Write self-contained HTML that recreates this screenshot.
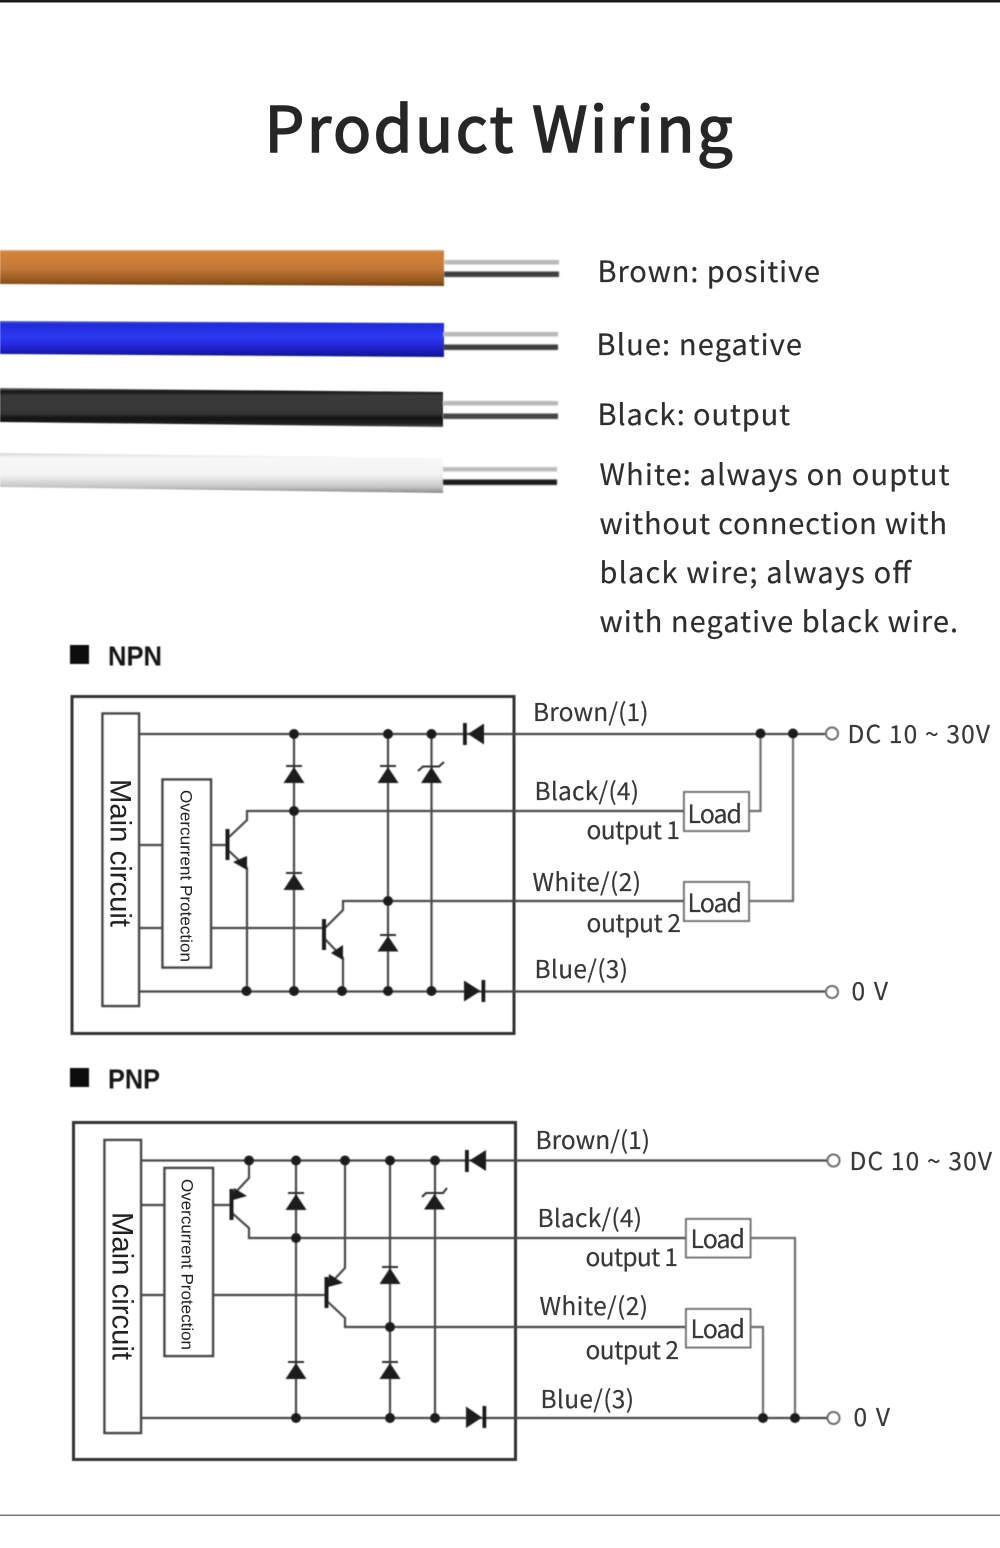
<!DOCTYPE html>
<html lang="en">
<head>
<meta charset="utf-8">
<title>Product Wiring</title>
<style>
html,body{margin:0;padding:0;background:#fff}
svg{display:block}
text{font-family:"Noto Sans CJK JP","Liberation Sans",sans-serif;fill:#2e2e2e}
.t{font-size:29px;stroke:#2e2e2e;stroke-width:.2px}
.l{font-size:24.5px;fill:#383838;stroke:#383838;stroke-width:.2px}
.ld{font-size:25px}
.h{font-family:"Liberation Sans",sans-serif;font-weight:700;font-size:28px;fill:#161616}
.r{font-family:"Liberation Sans",sans-serif;fill:#222}
.w{fill:none;stroke:#4a4a4a;stroke-width:2.2}
.b{fill:#fff;stroke:#444;stroke-width:2.5}
.o{fill:#fff;stroke:#666;stroke-width:2}
.g{fill:none;stroke:#6e6e6e;stroke-width:2.2}
.k{fill:#1c1c1c}
</style>
</head>
<body>
<svg xmlns="http://www.w3.org/2000/svg" width="1000" height="1548" viewBox="0 0 1000 1548">
<defs>
<filter id="s" x="-5%" y="-5%" width="110%" height="110%"><feGaussianBlur stdDeviation="0.45"/></filter>
<filter id="s2" x="-5%" y="-5%" width="110%" height="110%"><feGaussianBlur stdDeviation="0.7"/></filter>
<linearGradient id="br" x1="0" y1="0" x2="0" y2="1">
<stop offset="0" stop-color="#dcb08c"/><stop offset=".06" stop-color="#d58238"/><stop offset=".5" stop-color="#c4793a"/><stop offset=".85" stop-color="#96591e"/><stop offset="1" stop-color="#74431c"/>
</linearGradient>
<linearGradient id="bl" x1="0" y1="0" x2="0" y2="1">
<stop offset="0" stop-color="#5a66d8"/><stop offset=".08" stop-color="#1f2bd8"/><stop offset=".45" stop-color="#3038f4"/><stop offset=".75" stop-color="#1e22cc"/><stop offset="1" stop-color="#10148e"/>
</linearGradient>
<linearGradient id="bk" x1="0" y1="0" x2="0" y2="1">
<stop offset="0" stop-color="#777"/><stop offset=".08" stop-color="#161616"/><stop offset=".2" stop-color="#3a3a3a"/><stop offset=".65" stop-color="#363636"/><stop offset=".78" stop-color="#111"/><stop offset=".92" stop-color="#222"/><stop offset="1" stop-color="#555"/>
</linearGradient>
<linearGradient id="wh" x1="0" y1="0" x2="0" y2="1">
<stop offset="0" stop-color="#d4d4d4"/><stop offset=".12" stop-color="#f8f8f8"/><stop offset=".55" stop-color="#f2f2f2"/><stop offset=".85" stop-color="#c4c4c4"/><stop offset="1" stop-color="#8a8a8a"/>
</linearGradient>
</defs>

<rect x="0" y="0" width="1000" height="2.5" fill="#1a1a1a"/>
<rect x="0" y="1514.5" width="1000" height="1.5" fill="#777"/>

<text x="264.5" y="152" style="font-size:63px;stroke:#262626;stroke-width:1.6px;fill:#262626" textLength="468" lengthAdjust="spacing">Product Wiring</text>

<!-- cables -->
<g filter="url(#s)">
<polygon points="0,250 444,250 444,286 0,284" fill="url(#br)"/>
<polygon points="0,321 444,323 444,357 0,354" fill="url(#bl)"/>
<polygon points="0,388 443,392 443,427 0,422" fill="url(#bk)"/>
<polygon points="0,453 443,458 443,493 0,487" fill="url(#wh)"/>
</g>
<g filter="url(#s2)">
<rect x="444" y="260" width="115" height="4.5" fill="#b8b8b8"/><rect x="444" y="271.5" width="115" height="5.5" fill="#3c3c3c"/>
<rect x="443" y="332" width="115" height="4.5" fill="#b8b8b8"/><rect x="443" y="344.5" width="115" height="5.5" fill="#3c3c3c"/>
<rect x="443" y="401" width="115" height="4.5" fill="#b8b8b8"/><rect x="443" y="413.5" width="115" height="5.5" fill="#444"/>
<rect x="443" y="467" width="114" height="4.5" fill="#bcbcbc"/><rect x="443" y="479.5" width="114" height="5.5" fill="#1e1e1e"/>
</g>

<g>
<text class="t" x="597.5" y="282" textLength="222.5" lengthAdjust="spacing">Brown: positive</text>
<text class="t" x="596.5" y="355" textLength="205.5" lengthAdjust="spacing">Blue: negative</text>
<text class="t" x="597.5" y="425" textLength="192.5" lengthAdjust="spacing">Black: output</text>
<text class="t" x="599.5" y="485" textLength="350" lengthAdjust="spacing">White: always on ouptut</text>
<text class="t" x="599.5" y="534" textLength="347.5" lengthAdjust="spacing">without connection with</text>
<text class="t" x="599.5" y="583" textLength="311.5" lengthAdjust="spacing">black wire; always off</text>
<text class="t" x="599.5" y="632" textLength="358.5" lengthAdjust="spacing">with negative black wire.</text>
</g>

<!-- NPN -->
<g filter="url(#s)">
<rect x="70" y="645" width="19" height="19" fill="#111"/>
<text class="h" x="108" y="665.5" textLength="54" lengthAdjust="spacingAndGlyphs">NPN</text>
<rect x="72" y="696.5" width="442" height="337" fill="none" stroke="#333" stroke-width="3"/>
<rect class="b" x="102.5" y="713.5" width="36.5" height="292.5"/>
<rect class="b" x="162.5" y="779.5" width="48.5" height="188"/>
<path class="w" d="M139 734H825M139 991.5H825M139 845H162M211 845H227M139 928H162M211 928H324M294 734V991M388 734V991M431.5 734V991"/>
<path class="w" d="M684 811H247V820L228 838M228 850L247 868V991M684 901H343V910L325 928M325 939L343 958V991"/>
<rect class="k" x="225.5" y="829" width="4" height="31"/>
<rect class="k" x="322" y="919" width="4" height="31"/>
<polygon class="k" points="233,862 247,856 247,870"/>
<polygon class="k" points="331,953 343,945 343,960"/>
<path class="g" d="M749 811H760.5V734M749 901H793V734"/>
<g class="k">
<circle cx="294" cy="734" r="5"/><circle cx="388" cy="734" r="5"/><circle cx="431.5" cy="734" r="5"/>
<circle cx="294" cy="811" r="5"/><circle cx="388" cy="901" r="5"/>
<circle cx="246.5" cy="991" r="5"/><circle cx="294" cy="991" r="5"/><circle cx="342" cy="991" r="5"/><circle cx="388" cy="991" r="5"/><circle cx="431.5" cy="991" r="5"/>
<circle cx="760.5" cy="733.5" r="5"/><circle cx="793" cy="733.5" r="5"/>
<rect x="463" y="723" width="3.8" height="22"/><polygon points="468,734 484,723.5 484,744.5"/>
<rect x="481.5" y="980" width="3.8" height="22"/><polygon points="464,980.5 464,1001.5 480.5,991"/>
<polygon points="294,767 283.5,783 304.5,783"/><polygon points="294,874 283.5,890 304.5,890"/>
<polygon points="388,767 377.5,783 398.5,783"/><polygon points="388,936 377.5,951.5 398.5,951.5"/>
<polygon points="431.5,767 421,783 442,783"/>
</g>
<path d="M286 766H302M286 873H302M380 766H396M380 935H396" stroke="#333" stroke-width="2" fill="none"/>
<path d="M418 771L423 766.5H439L444 762" stroke="#333" stroke-width="2" fill="none"/>
<rect x="684" y="792" width="65" height="39" fill="#fff" stroke="#6e6e6e" stroke-width="2"/>
<rect x="684" y="882" width="65" height="39" fill="#fff" stroke="#6e6e6e" stroke-width="2"/>
<circle class="o" cx="832" cy="733.5" r="6"/><circle class="o" cx="832" cy="992" r="6"/>
</g>
<text class="r" transform="translate(110.5 779) rotate(90)" style="font-size:30px" textLength="148" lengthAdjust="spacingAndGlyphs">Main circuit</text>
<text class="r" transform="translate(180.5 790) rotate(90)" style="font-size:17px" textLength="172" lengthAdjust="spacingAndGlyphs">Overcurrent Protection</text>
<text class="l" x="533" y="721" textLength="115.5" lengthAdjust="spacing">Brown/(1)</text>
<text class="l" x="534.5" y="800" textLength="104.5" lengthAdjust="spacing">Black/(4)</text>
<text class="l" x="586.5" y="839" textLength="93.5" lengthAdjust="spacing">output 1</text>
<text class="l ld" x="687.5" y="823" textLength="54.5" lengthAdjust="spacing">Load</text>
<text class="l" x="532.5" y="891" textLength="108.5" lengthAdjust="spacing">White/(2)</text>
<text class="l ld" x="687.5" y="912" textLength="54.5" lengthAdjust="spacing">Load</text>
<text class="l" x="586.5" y="932" textLength="94.5" lengthAdjust="spacing">output 2</text>
<text class="l" x="534.5" y="978" textLength="93.5" lengthAdjust="spacing">Blue/(3)</text>
<text class="l" x="847.5" y="743" textLength="142.5" lengthAdjust="spacing">DC 10 ~ 30V</text>
<text class="l" x="851.5" y="1000" textLength="36.5" lengthAdjust="spacing">0 V</text>

<!-- PNP -->
<g filter="url(#s)">
<rect x="70" y="1068" width="19" height="19" fill="#111"/>
<text class="h" x="108" y="1088.5" textLength="52" lengthAdjust="spacingAndGlyphs">PNP</text>
<rect x="73.5" y="1122.5" width="442" height="337" fill="none" stroke="#333" stroke-width="3"/>
<rect class="b" x="104.5" y="1140" width="36.5" height="293"/>
<rect class="b" x="164.5" y="1168" width="48.5" height="188"/>
<path class="w" d="M141 1160.5H827M141 1418H827M141 1205H164M213 1205H230M141 1295H164M213 1295H326M296 1160V1418M390 1160V1418M435 1160V1418"/>
<path class="w" d="M249 1160V1178L233 1195M232 1213L249 1228V1238H686M345 1160V1268L330 1284M328 1302L345 1318V1327H686"/>
<rect class="k" x="229.5" y="1189" width="4" height="31"/>
<rect class="k" x="324.5" y="1277" width="4" height="31"/>
<polygon class="k" points="234,1188 247,1196 233,1200"/>
<polygon class="k" points="329,1274 343,1283 328,1287"/>
<path class="g" d="M750 1238H795V1418M750 1327H763V1418"/>
<g class="k">
<circle cx="249" cy="1160.5" r="5"/><circle cx="296" cy="1160.5" r="5"/><circle cx="345" cy="1160.5" r="5"/><circle cx="390" cy="1160.5" r="5"/><circle cx="435" cy="1160.5" r="5"/>
<circle cx="296" cy="1238" r="5"/><circle cx="390" cy="1327" r="5"/>
<circle cx="296" cy="1418" r="5"/><circle cx="390" cy="1418" r="5"/><circle cx="435" cy="1418" r="5"/>
<circle cx="763" cy="1418" r="5"/><circle cx="795" cy="1418" r="5"/>
<rect x="465" y="1150" width="3.8" height="22"/><polygon points="469.5,1160.5 486,1150 486,1171"/>
<rect x="482.5" y="1406" width="3.8" height="22"/><polygon points="466,1406.5 466,1428 482,1417.5"/>
<polygon points="296,1194 285.5,1210 306.5,1210"/><polygon points="296,1363 285.5,1379 306.5,1379"/>
<polygon points="390,1268 379.5,1284 400.5,1284"/><polygon points="390,1363 379.5,1379 400.5,1379"/>
<polygon points="434.5,1194 424,1209.5 445,1209.5"/>
</g>
<path d="M288 1193H304M288 1362H304M382 1267H398M382 1362H398" stroke="#333" stroke-width="2" fill="none"/>
<path d="M422 1197L426 1193H443L447 1188" stroke="#333" stroke-width="2" fill="none"/>
<rect x="686" y="1219" width="64.5" height="38.5" fill="#fff" stroke="#6e6e6e" stroke-width="2"/>
<rect x="686" y="1309" width="64.5" height="38.5" fill="#fff" stroke="#6e6e6e" stroke-width="2"/>
<circle class="o" cx="833.5" cy="1160.5" r="6"/><circle class="o" cx="833.5" cy="1418" r="6"/>
</g>
<text class="r" transform="translate(112.5 1212) rotate(90)" style="font-size:30px" textLength="148" lengthAdjust="spacingAndGlyphs">Main circuit</text>
<text class="r" transform="translate(181.5 1179) rotate(90)" style="font-size:17px" textLength="171" lengthAdjust="spacingAndGlyphs">Overcurrent Protection</text>
<text class="l" x="535.5" y="1149" textLength="114.5" lengthAdjust="spacing">Brown/(1)</text>
<text class="l" x="537.5" y="1227" textLength="104.5" lengthAdjust="spacing">Black/(4)</text>
<text class="l" x="585.5" y="1266" textLength="92.5" lengthAdjust="spacing">output 1</text>
<text class="l ld" x="690.5" y="1248" textLength="54.5" lengthAdjust="spacing">Load</text>
<text class="l" x="539.5" y="1315" textLength="108.5" lengthAdjust="spacing">White/(2)</text>
<text class="l ld" x="690.5" y="1338" textLength="54.5" lengthAdjust="spacing">Load</text>
<text class="l" x="585.5" y="1359" textLength="93.5" lengthAdjust="spacing">output 2</text>
<text class="l" x="540.5" y="1408" textLength="93.5" lengthAdjust="spacing">Blue/(3)</text>
<text class="l" x="849.5" y="1170" textLength="142.5" lengthAdjust="spacing">DC 10 ~ 30V</text>
<text class="l" x="853.5" y="1426" textLength="36.5" lengthAdjust="spacing">0 V</text>
</svg>
</body>
</html>
